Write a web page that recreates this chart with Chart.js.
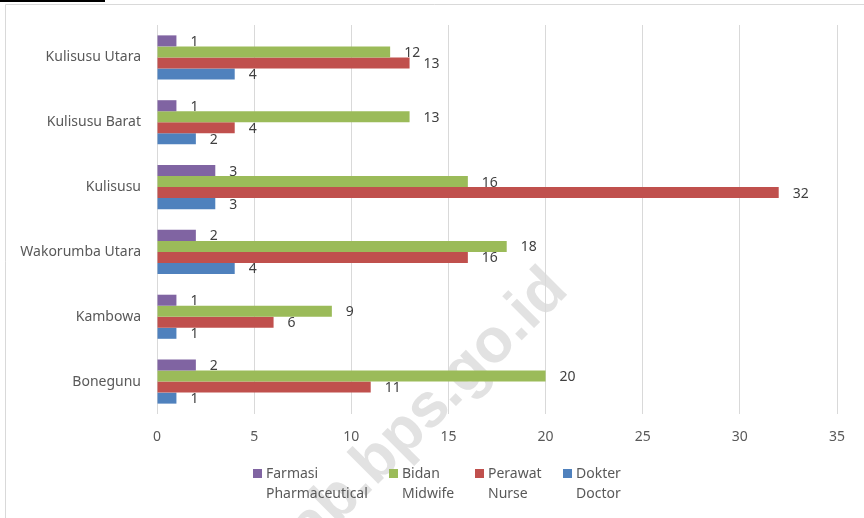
<!DOCTYPE html>
<html>
<head>
<meta charset="utf-8">
<script src="https://cdn.jsdelivr.net/npm/chart.js@4.4.0/dist/chart.umd.min.js"></script>
<style>
html,body{margin:0;padding:0;background:#fff;}
#wrap{position:relative;width:864px;height:518px;}
canvas{display:block;}
</style>
</head>
<body>
<div id="wrap"><canvas id="c" width="864" height="518"></canvas></div>
<script>
const categories = ['Kulisusu Utara', 'Kulisusu Barat', 'Kulisusu', 'Wakorumba Utara', 'Kambowa', 'Bonegunu'];
const farmasi = [1, 1, 3, 2, 1, 2];
const bidan   = [12, 13, 16, 18, 9, 20];
const perawat = [13, 4, 32, 16, 6, 11];
const dokter  = [4, 2, 3, 4, 1, 1];
const seriesLabels = [['Farmasi', 'Pharmaceutical'], ['Bidan', 'Midwife'], ['Perawat', 'Nurse'], ['Dokter', 'Doctor']];
const xTicks = [0, 5, 10, 15, 20, 25, 30, 35];
const colors = ['#8064A2', '#9BBB59', '#C0504D', '#4F81BD'];
const FONT = '"Noto Sans", sans-serif';
const FS = 14;

const frame = {
  id: 'frame',
  beforeDraw(chart) {
    const ctx = chart.ctx;
    ctx.save();
    ctx.fillStyle = '#fff';
    ctx.fillRect(0, 0, chart.width, chart.height);
    ctx.strokeStyle = '#d9d9d9';
    ctx.lineWidth = 1;
    ctx.beginPath();
    ctx.moveTo(5.5, chart.height);
    ctx.lineTo(5.5, 4.5);
    ctx.lineTo(chart.width, 4.5);
    ctx.stroke();
    ctx.fillStyle = '#000';
    ctx.fillRect(0, 0, 105, 2);
    // watermark
    ctx.translate(570, 292);
    ctx.rotate(-45 * Math.PI / 180);
    ctx.font = 'bold 62px "Liberation Sans", sans-serif';
    ctx.fillStyle = '#e2e2e2';
    ctx.textAlign = 'right';
    ctx.textBaseline = 'alphabetic';
    ctx.fillText('butonutarakab.bps.go.id', 0, 0);
    ctx.restore();
  }
};

const valueLabels = {
  id: 'valueLabels',
  afterDatasetsDraw(chart) {
    const ctx = chart.ctx;
    ctx.save();
    ctx.font = FS + 'px ' + FONT;
    ctx.fillStyle = '#404040';
    ctx.textAlign = 'left';
    ctx.textBaseline = 'middle';
    chart.data.datasets.forEach((ds, i) => {
      const meta = chart.getDatasetMeta(i);
      meta.data.forEach((el, j) => {
        ctx.fillText(String(ds.data[j]), el.x + 14, el.y + 1);
      });
    });
    ctx.restore();
  }
};

const legendPlugin = {
  id: 'customLegend',
  afterDraw(chart) {
    const ctx = chart.ctx;
    ctx.save();
    ctx.font = FS + 'px ' + FONT;
    ctx.textBaseline = 'middle';
    ctx.textAlign = 'left';
    const box = 9, gapText = 4, gapItem = 21;
    const widths = chart.data.datasets.map(ds => {
      const lines = ds.legendText;
      return box + gapText + Math.max(...lines.map(l => ctx.measureText(l).width));
    });
    const total = widths.reduce((a, b) => a + b, 0) + gapItem * (widths.length - 1);
    let x = Math.round(437 - total / 2);
    chart.data.datasets.forEach((ds, i) => {
      ctx.fillStyle = ds.backgroundColor;
      ctx.fillRect(Math.round(x), 469, box, box);
      ctx.fillStyle = '#595959';
      ds.legendText.forEach((line, k) => {
        ctx.fillText(line, Math.round(x) + box + gapText, 474 + k * 20);
      });
      x += widths[i] + gapItem;
    });
    ctx.restore();
  }
};

const seriesData = [farmasi, bidan, perawat, dokter];
const datasets = seriesData.map((d, i) => ({
  label: seriesLabels[i].join(' '),
  legendText: seriesLabels[i],
  data: d,
  backgroundColor: colors[i],
  borderWidth: 0,
  barPercentage: 1,
  categoryPercentage: 0.68
}));

new Chart(document.getElementById('c'), {
  type: 'bar',
  data: { labels: categories, datasets },
  options: {
    indexAxis: 'y',
    responsive: false,
    animation: false,
    layout: { padding: { left: 0, top: 25, right: 27, bottom: 0 } },
    plugins: { legend: { display: false }, tooltip: { enabled: false } },
    scales: {
      x: {
        min: 0, max: 35,
        afterBuildTicks(scale) { scale.ticks = xTicks.map(v => ({ value: v })); },
        afterFit(scale) { scale.height = 104; },
        grid: { color: '#d9d9d9', drawTicks: false, lineWidth: 1 },
        border: { display: false },
        ticks: { color: '#595959', font: { family: FONT, size: FS }, padding: 15 }
      },
      y: {
        afterFit(scale) { scale.width = 157; },
        grid: { display: false, drawTicks: false },
        border: { display: false },
        ticks: { color: '#595959', font: { family: FONT, size: FS }, padding: 16 }
      }
    }
  },
  plugins: [frame, valueLabels, legendPlugin]
});
</script>
</body>
</html>
